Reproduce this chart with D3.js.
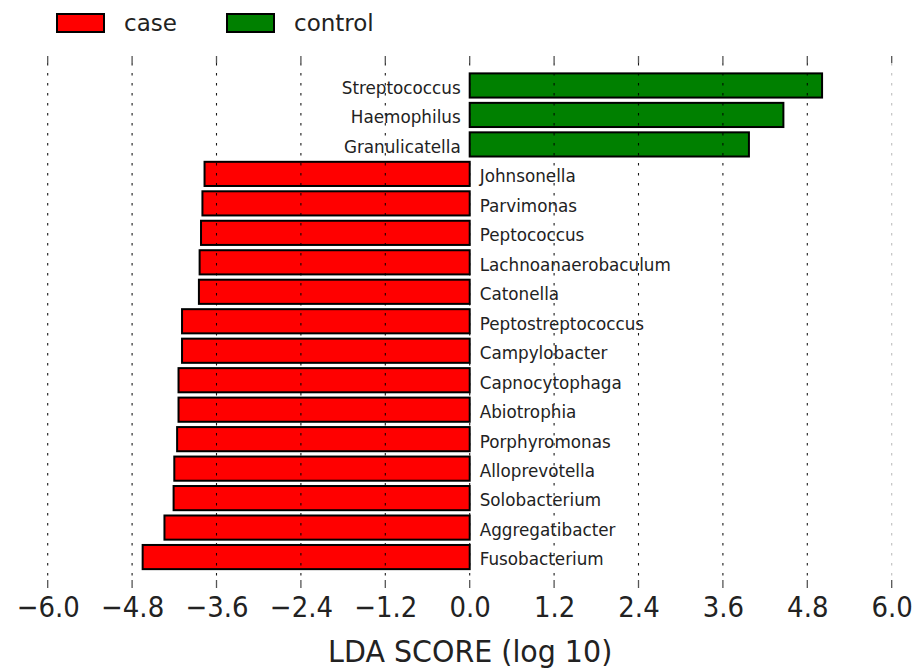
<!DOCTYPE html>
<html>
<head>
<meta charset="utf-8">
<script src="https://cdn.jsdelivr.net/npm/d3@7/dist/d3.min.js"></script>
<style>
  html, body { margin: 0; padding: 0; background: #fff; }
  svg { display: block; font-family: "DejaVu Sans", sans-serif; }
</style>
</head>
<body>
<svg id="chart" width="919" height="671"></svg>
<script>
// Features in display order (top to bottom)
const features = [
  "Streptococcus", "Haemophilus", "Granulicatella", "Johnsonella", "Parvimonas",
  "Peptococcus", "Lachnoanaerobaculum", "Catonella", "Peptostreptococcus",
  "Campylobacter", "Capnocytophaga", "Abiotrophia", "Porphyromonas",
  "Alloprevotella", "Solobacterium", "Aggregatibacter", "Fusobacterium"
];
// Signed LDA scores (log10): negative = case, positive = control
const ldaScores = [
  5.01, 4.46, 3.97, -3.77, -3.80,
  -3.82, -3.84, -3.85, -4.09,
  -4.09, -4.14, -4.14, -4.16,
  -4.20, -4.21, -4.34, -4.65
];
const classNames = ["case", "control"];
const classColors = ["#ff0000", "#008000"];
const xTicks = [-6.0, -4.8, -3.6, -2.4, -1.2, 0.0, 1.2, 2.4, 3.6, 4.8, 6.0];

const svg = d3.select("#chart");
const plot = { left: 47.7, right: 891.7, top: 56, bottom: 588 };
const n = features.length;

const x = d3.scaleLinear().domain([-6, 6]).range([plot.left, plot.right]);
// index 0 = bottom bar
const y = d3.scaleLinear().domain([-1.05, n]).range([plot.bottom, plot.top]);
const step = Math.abs(y(1) - y(0));
const barH = step * 0.82;
const textColor = "#222";

const rows = features.map((f, i) => ({
  name: f,
  score: ldaScores[i],
  pos: n - 1 - i,
  cls: ldaScores[i] < 0 ? 0 : 1
}));

// bars
svg.append("g").selectAll("rect").data(rows).join("rect")
  .attr("x", d => x(Math.min(0, d.score)))
  .attr("width", d => Math.abs(x(d.score) - x(0)))
  .attr("y", d => y(d.pos) - barH / 2)
  .attr("height", barH)
  .attr("fill", d => classColors[d.cls])
  .attr("stroke", "#000")
  .attr("stroke-width", 2);

// vertical dotted grid, drawn over the bars
svg.append("g").selectAll("line").data(xTicks).join("line")
  .attr("x1", d => x(d)).attr("x2", d => x(d))
  .attr("y1", plot.top + 7).attr("y2", plot.bottom - 7)
  .attr("stroke", "#000")
  .attr("stroke-width", 1.1)
  .attr("stroke-dasharray", "2.5,7.5")
  .attr("opacity", d => d === 6 ? 0.25 : 0.9);

// axis with inward ticks top and bottom, no spines
const axisBottom = d3.axisBottom(x).tickValues(xTicks).tickSize(0).tickPadding(0)
  .tickFormat(d3.format(".1f"));
const gx = svg.append("g").attr("transform", `translate(0,${plot.bottom})`).call(axisBottom);
gx.select(".domain").remove();
gx.selectAll("text")
  .attr("y", 19)
  .attr("dy", "0.35em")
  .attr("fill", textColor)
  .style("font-size", "26px")
  .style("font-family", "DejaVu Sans, sans-serif")
  .attr("transform", "scale(1,1.1)")
  .attr("transform-origin", "0 19")
  .text(d => d3.format(".1f")(d).replace("-", "\u2212"));

const tickG = svg.append("g");
xTicks.forEach(t => {
  tickG.append("line").attr("x1", x(t)).attr("x2", x(t))
    .attr("y1", plot.top).attr("y2", plot.top + 7)
    .attr("stroke", "#555").attr("stroke-width", 1.3);
  tickG.append("line").attr("x1", x(t)).attr("x2", x(t))
    .attr("y1", plot.bottom - 8).attr("y2", plot.bottom)
    .attr("stroke", "#555").attr("stroke-width", 1.3);
});

// feature labels beside the zero line
svg.append("g").selectAll("text").data(rows).join("text")
  .attr("x", d => d.score < 0 ? x(0) + 10 : x(0) - 9)
  .attr("y", d => y(d.pos) + 2.5)
  .attr("dy", "0.35em")
  .attr("text-anchor", d => d.score < 0 ? "start" : "end")
  .attr("fill", textColor)
  .style("font-size", "16.8px")
  .text(d => d.name);

// axis title
svg.append("text")
  .attr("x", x(0) + 0.5)
  .attr("y", 651)
  .attr("dy", "0.35em")
  .attr("text-anchor", "middle")
  .attr("fill", textColor)
  .style("font-size", "28.5px")
  .attr("transform", "scale(1,1.08)")
  .attr("transform-origin", "0 651")
  .text("LDA SCORE (log 10)");

// legend
const legendX = [56, 226];
const leg = svg.append("g").selectAll("g").data(classNames).join("g")
  .attr("transform", (d, i) => `translate(${legendX[i]},13)`);
leg.append("rect")
  .attr("x", 1).attr("y", 1)
  .attr("width", 47).attr("height", 18)
  .attr("fill", (d, i) => classColors[i])
  .attr("stroke", "#000").attr("stroke-width", 2);
leg.append("text")
  .attr("x", 68).attr("y", 10)
  .attr("dy", "0.35em")
  .attr("fill", textColor)
  .style("font-size", "23px")
  .text(d => d);
</script>
</body>
</html>
